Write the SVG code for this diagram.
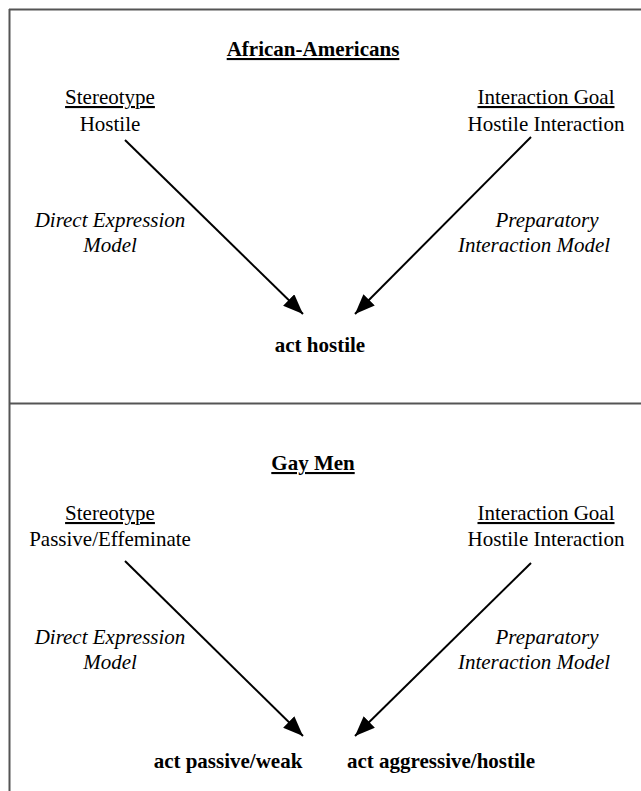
<svg xmlns="http://www.w3.org/2000/svg" width="641" height="791" viewBox="0 0 641 791">
<defs>
<marker id="ahs" viewBox="0 0 20 16" refX="20" refY="8" markerWidth="20" markerHeight="16" markerUnits="userSpaceOnUse" orient="auto">
<path d="M0,0 L20,8 L0,16 z" fill="#000"/>
</marker>
</defs>
<rect width="641" height="791" fill="#fff"/>
<g id="frame" stroke="#555" stroke-width="2" fill="none">
<line x1="9" y1="9.5" x2="641" y2="9.5"/>
<line x1="9.5" y1="9" x2="9.5" y2="791"/>
<line x1="9" y1="403.5" x2="641" y2="403.5"/>
</g>
<g id="labels" font-family="Liberation Serif" font-size="21" text-anchor="middle" fill="#000">
<g id="top-title"><text x="313" y="56" font-weight="bold" text-decoration="underline">African-Americans</text></g>
<g id="top-stereotype"><text x="110" y="104" text-decoration="underline">Stereotype</text><text x="110" y="131">Hostile</text></g>
<g id="top-goal"><text x="546" y="104" text-decoration="underline">Interaction Goal</text><text x="546" y="131">Hostile Interaction</text></g>
<g id="top-dem" font-style="italic"><text x="110" y="227">Direct Expression</text><text x="110" y="252">Model</text></g>
<g id="top-pim" font-style="italic"><text x="547" y="227">Preparatory</text><text x="534" y="252">Interaction Model</text></g>
<g id="top-out"><text x="320" y="352" font-weight="bold">act hostile</text></g>
<g id="bot-title"><text x="313" y="470" font-weight="bold" text-decoration="underline">Gay Men</text></g>
<g id="bot-stereotype"><text x="110" y="520" text-decoration="underline">Stereotype</text><text x="110" y="546">Passive/Effeminate</text></g>
<g id="bot-goal"><text x="546" y="520" text-decoration="underline">Interaction Goal</text><text x="546" y="546">Hostile Interaction</text></g>
<g id="bot-dem" font-style="italic"><text x="110" y="644">Direct Expression</text><text x="110" y="669">Model</text></g>
<g id="bot-pim" font-style="italic"><text x="547" y="644">Preparatory</text><text x="534" y="669">Interaction Model</text></g>
<g id="bot-out1"><text x="228" y="768" font-weight="bold">act passive/weak</text></g>
<g id="bot-out2"><text x="441" y="768" font-weight="bold">act aggressive/hostile</text></g>
</g>
<g id="connectors" stroke="#000" stroke-width="2" marker-end="url(#ahs)">
<line x1="125" y1="140" x2="303" y2="314"/>
<line x1="531" y1="137" x2="355" y2="314"/>
<line x1="125" y1="561" x2="303" y2="736"/>
<line x1="531" y1="563" x2="355" y2="736"/>
</g>
</svg>
